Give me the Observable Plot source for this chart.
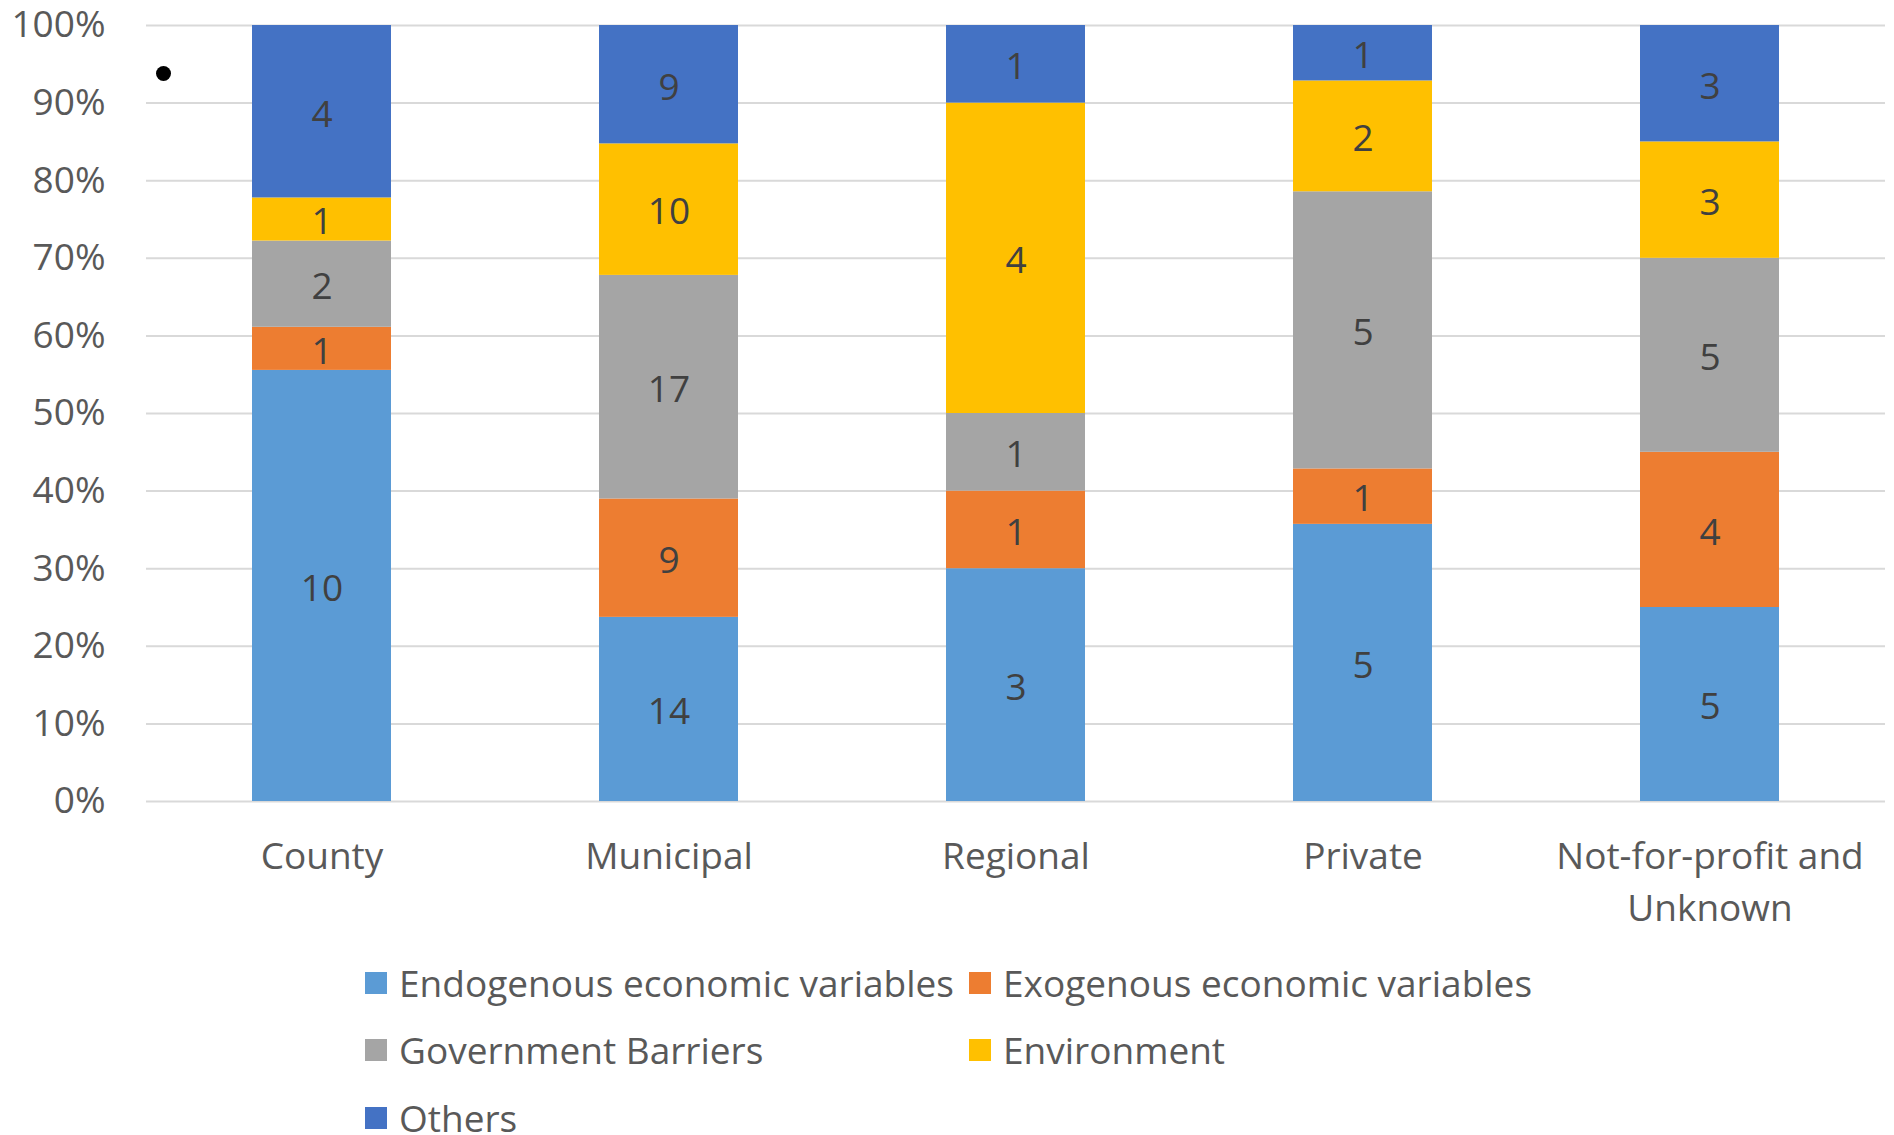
<!DOCTYPE html>
<html><head><meta charset="utf-8">
<script src="https://cdn.jsdelivr.net/npm/d3@7"></script>
<script src="https://cdn.jsdelivr.net/npm/@observablehq/plot@0.6"></script>
<style>
body{margin:0;background:#fff;font-family:"Open Sans",sans-serif;}
#wrap{position:relative;width:1894px;height:1135px;overflow:hidden;}
#chart svg{overflow:visible;}
.bullet{position:absolute;left:156px;top:66px;width:15px;height:15px;border-radius:50%;background:#000;}
#legend{display:grid;grid-template-columns:604px 604px;grid-auto-rows:67.5px;padding-left:365px;margin-top:0px;color:#595959;font-size:37px;line-height:1.2;}
.item{display:flex;align-items:center;white-space:nowrap;}
.sw{width:22px;height:22px;margin-right:12px;flex:none;}
</style></head>
<body><div id="wrap"><div id="chart"></div><div id="legend"></div><div class="bullet"></div></div>
<script>
const categories = ["County", "Municipal", "Regional", "Private", "Not-for-profit and Unknown"];
const categoryLabels = ["County", "Municipal", "Regional", "Private", "Not-for-profit and\nUnknown"];
const series = ["Endogenous economic variables", "Exogenous economic variables", "Government Barriers", "Environment", "Others"];
const seriesColors = ["#5B9BD5", "#ED7D31", "#A5A5A5", "#FFC000", "#4472C4"];
const endogenous = [10, 14, 3, 5, 5];
const exogenous = [1, 9, 1, 1, 4];
const government = [2, 17, 1, 5, 5];
const environment = [1, 10, 4, 2, 3];
const others = [4, 9, 1, 1, 3];
const yTicks = [0, 0.1, 0.2, 0.3, 0.4, 0.5, 0.6, 0.7, 0.8, 0.9, 1];

const seriesValues = [endogenous, exogenous, government, environment, others];
const data = [];
series.forEach((s, si) => {
  categories.forEach((c, ci) => {
    data.push({category: c, series: s, value: seriesValues[si][ci]});
  });
});

const stackOpts = {offset: "normalize", order: series};

const chart = Plot.plot({
  width: 1894,
  height: 949,
  marginTop: 25,
  marginBottom: 148,
  marginLeft: 146,
  marginRight: 9,
  style: {fontFamily: "Open Sans", color: "#595959", background: "#fff", overflow: "visible"},
  x: {domain: categories, paddingInner: 0.6, paddingOuter: 0.3, label: null},
  y: {domain: [0, 1], label: null},
  color: {domain: series, range: seriesColors},
  marks: [
    Plot.gridY(yTicks, {stroke: "#D9D9D9", strokeOpacity: 1, strokeWidth: 2}),
    Plot.barY(data, Plot.stackY(stackOpts, {x: "category", y: "value", fill: "series"})),
    Plot.text(data, Plot.stackY(stackOpts, {x: "category", y: "value", z: "series", text: d => String(d.value), fill: "#404040", fontSize: 37, dy: 3})),
    Plot.axisY(yTicks, {tickSize: 0, tickPadding: 41, fontSize: 37, tickFormat: d => Math.round(d * 100) + "%", label: null}),
    Plot.axisX({tickSize: 0, tickPadding: 30, fontSize: 37, lineHeight: 1.42, tickFormat: d => categoryLabels[categories.indexOf(d)], label: null})
  ]
});
document.getElementById("chart").appendChild(chart);

const legend = document.getElementById("legend");
series.forEach((s, i) => {
  const item = document.createElement("div");
  item.className = "item";
  const sw = document.createElement("span");
  sw.className = "sw";
  sw.style.background = seriesColors[i];
  const t = document.createElement("span");
  t.textContent = s;
  item.appendChild(sw);
  item.appendChild(t);
  legend.appendChild(item);
});
</script>
</body></html>
